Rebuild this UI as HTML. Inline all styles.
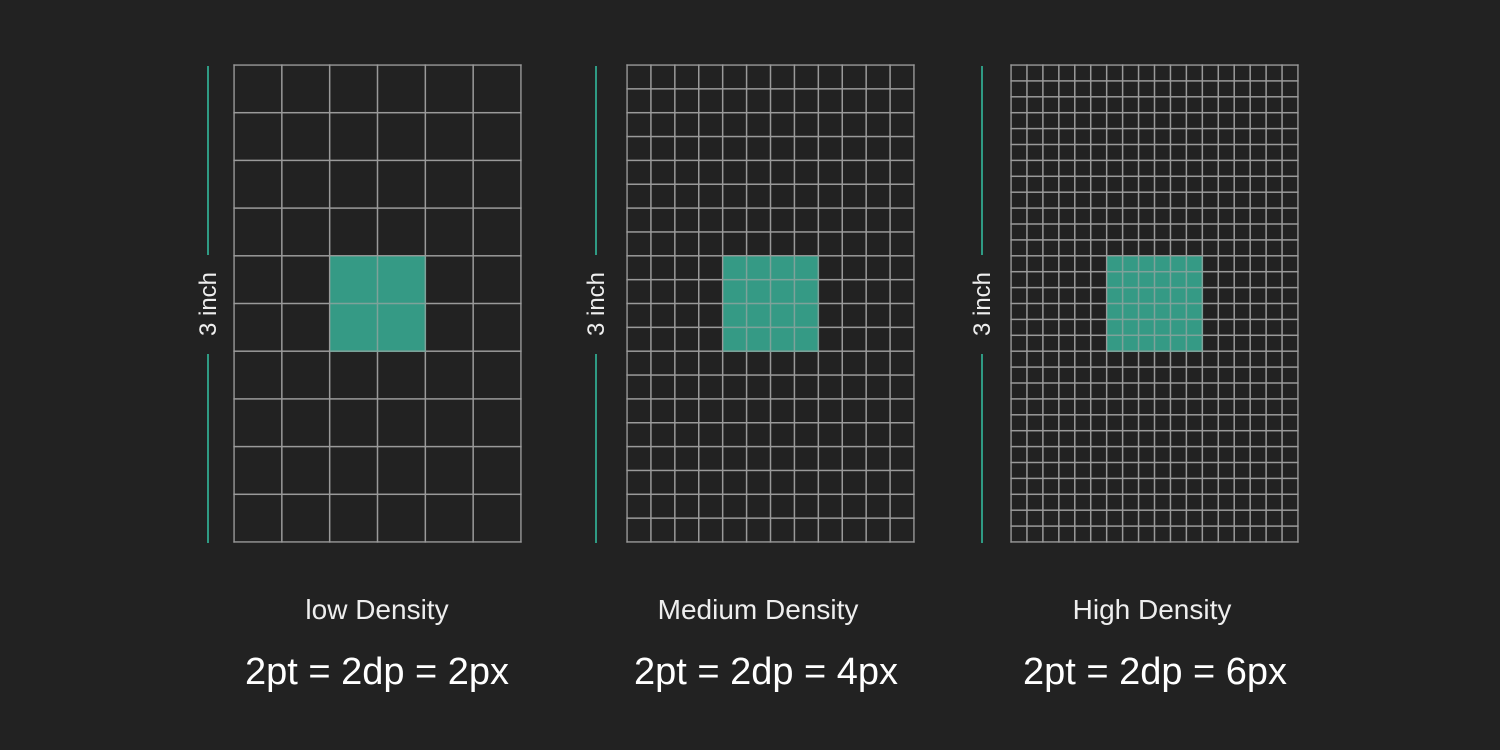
<!DOCTYPE html><html><head><style>body{margin:0;background:#222;}svg{display:block}</style></head><body>
<svg width="1500" height="750" xmlns="http://www.w3.org/2000/svg" font-family="Liberation Sans, sans-serif">
<defs>
<pattern id="p1" patternUnits="userSpaceOnUse" x="233.25" y="64.25" width="47.833" height="47.7"><rect x="0" y="0" width="1.5" height="47.7" fill="#9a9a9a"/><rect x="0" y="0" width="47.833" height="1.5" fill="#9a9a9a"/></pattern>
<pattern id="p2" patternUnits="userSpaceOnUse" x="626.25" y="64.25" width="23.9167" height="23.85"><rect x="0" y="0" width="1.5" height="23.85" fill="#9a9a9a"/><rect x="0" y="0" width="23.9167" height="1.5" fill="#9a9a9a"/></pattern>
<pattern id="p3" patternUnits="userSpaceOnUse" x="1010.25" y="64.25" width="15.9444" height="15.9"><rect x="0" y="0" width="1.5" height="15.9" fill="#9a9a9a"/><rect x="0" y="0" width="15.9444" height="1.5" fill="#9a9a9a"/></pattern>
</defs>
<rect width="1500" height="750" fill="#222"/>

<g fill="#318f7c">
<rect x="330" y="256" width="96" height="96"/>
<rect x="723" y="256" width="96" height="96"/>
<rect x="1107" y="256" width="96" height="96"/>
</g>

<rect x="233.25" y="64.25" width="288.5" height="478.5" fill="url(#p1)"/>
<rect x="626.25" y="64.25" width="288.5" height="478.5" fill="url(#p2)"/>
<rect x="1010.25" y="64.25" width="288.5" height="478.5" fill="url(#p3)"/>
<g fill="#3fb59b" opacity="0.3">
<rect x="330" y="256" width="96" height="96"/>
<rect x="723" y="256" width="96" height="96"/>
<rect x="1107" y="256" width="96" height="96"/>
</g>

<g stroke="#2f9b84" stroke-width="2">
<line x1="208" y1="66" x2="208" y2="255"/><line x1="208" y1="354" x2="208" y2="543"/>
<line x1="596" y1="66" x2="596" y2="255"/><line x1="596" y1="354" x2="596" y2="543"/>
<line x1="982" y1="66" x2="982" y2="255"/><line x1="982" y1="354" x2="982" y2="543"/>
</g>
<g fill="#eee" font-size="24" text-anchor="middle">
<text transform="translate(216,304) rotate(-90)">3 inch</text>
<text transform="translate(604,304) rotate(-90)">3 inch</text>
<text transform="translate(990,304) rotate(-90)">3 inch</text>
</g>
<g fill="#eee" font-size="28" text-anchor="middle">
<text x="377" y="619">low Density</text>
<text x="758" y="619">Medium Density</text>
<text x="1152" y="619">High Density</text>
</g>
<g fill="#fff" font-size="38" text-anchor="middle">
<text x="377" y="684">2pt = 2dp = 2px</text>
<text x="766" y="684">2pt = 2dp = 4px</text>
<text x="1155" y="684">2pt = 2dp = 6px</text>
</g>
</svg></body></html>
